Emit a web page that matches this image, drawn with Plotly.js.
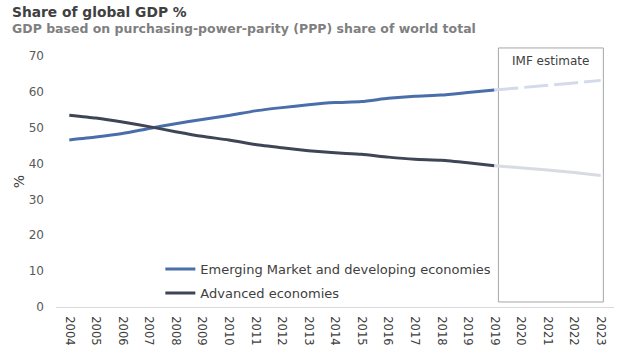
<!DOCTYPE html>
<html>
<head>
<meta charset="utf-8">
<script src="https://cdn.plot.ly/plotly-3.0.1.min.js"></script>
<style>html,body{margin:0;padding:0;background:#fff;}#chart{width:635px;height:354px;}</style>
</head>
<body>
<div id="chart"></div>
<script>
// Category labels (note the duplicated 2019 in the source chart)
var yearLabels = ['2004','2005','2006','2007','2008','2009','2010','2011','2012','2013','2014','2015','2016','2017','2018','2019','2019','2020','2021','2022','2023'];
// Historic values (indices 0..16)
var emergingHist = [46.6,47.4,48.4,49.8,51.1,52.3,53.4,54.7,55.6,56.4,57.0,57.3,58.2,58.8,59.1,59.8,60.5];
var advancedHist = [53.5,52.7,51.6,50.3,48.9,47.6,46.6,45.3,44.4,43.6,43.0,42.6,41.8,41.2,40.9,40.2,39.4];
// IMF estimate values (indices 16..20)
var emergingEst = [60.5,61.1,61.8,62.5,63.2];
var advancedEst = [39.4,38.9,38.2,37.5,36.7];
var histStart = 0, estStart = 16;

var FONT = 'DejaVu Sans, sans-serif';
function idx(start, n){ var a=[]; for(var i=0;i<n;i++) a.push(start+i); return a; }

var traces = [
  {x: idx(histStart, emergingHist.length), y: emergingHist, mode:'lines', name:'Emerging Market and developing economies',
   legend:'legend', line:{color:'#4a6ea9', width:3, shape:'spline', smoothing:0.6}},
  {x: idx(histStart, advancedHist.length), y: advancedHist, mode:'lines', name:'Advanced economies',
   legend:'legend2', line:{color:'#3e4554', width:3, shape:'spline', smoothing:0.6}},
  {x: idx(estStart, emergingEst.length), y: emergingEst, mode:'lines', showlegend:false,
   line:{color:'#d3daea', width:3, dash:'24px,6px'}},
  {x: idx(estStart, advancedEst.length), y: advancedEst, mode:'lines', showlegend:false,
   line:{color:'#d8dbe1', width:3}}
];

var legFont = {family:FONT, size:13, color:'#404040'};
var layout = {
  width:635, height:354,
  margin:{l:56, r:21, t:56, b:47},
  paper_bgcolor:'#fff', plot_bgcolor:'#fff',
  font:{family:FONT, color:'#404040'},
  showlegend:true,
  legend:{x:0.187, y:0.151, xanchor:'left', yanchor:'middle', bgcolor:'rgba(0,0,0,0)', font:legFont},
  legend2:{x:0.187, y:0.056, xanchor:'left', yanchor:'middle', bgcolor:'rgba(0,0,0,0)', font:legFont},
  xaxis:{range:[-0.5,20.5], tickmode:'array', tickvals:idx(0, yearLabels.length), ticktext:yearLabels,
         tickangle:90, showgrid:false, zeroline:false, showline:true, linecolor:'#d9d9d9', linewidth:1,
         ticks:'', ticklabelstandoff:6, tickfont:{family:FONT, size:11.5, color:'#404040'}, fixedrange:true},
  yaxis:{range:[0,70], dtick:10, showgrid:false, zeroline:false, showline:false, ticks:'',
         tickfont:{family:FONT, size:12, color:'#595959'}, ticklabelstandoff:11,
         title:{text:'%', font:{family:FONT, size:14, color:'#404040'}, standoff:0}, fixedrange:true},
  shapes:[{type:'rect', xref:'x', yref:'paper', x0:16.15, x1:20.1, y0:0.02, y1:1.032,
           line:{color:'#a6a6a6', width:1}, fillcolor:'rgba(0,0,0,0)', layer:'below'}],
  annotations:[
    {text:'<b>Share of global GDP %</b>', xref:'paper', yref:'paper', x:-0.082, y:1.175, xanchor:'left', yanchor:'middle',
     showarrow:false, font:{family:FONT, size:13.8, color:'#404040'}},
    {text:'<b>GDP based on purchasing-power-parity (PPP) share of world total</b>', xref:'paper', yref:'paper', x:-0.082, y:1.111,
     xanchor:'left', yanchor:'middle', showarrow:false, font:{family:FONT, size:12.5, color:'#7f7f7f'}},
    {text:'IMF estimate', xref:'x', yref:'paper', x:18.12, y:0.98, xanchor:'center', yanchor:'middle', showarrow:false,
     font:{family:FONT, size:12, color:'#404040'}}
  ]
};

Plotly.newPlot('chart', traces, layout, {displayModeBar:false, staticPlot:true});
</script>
</body>
</html>
